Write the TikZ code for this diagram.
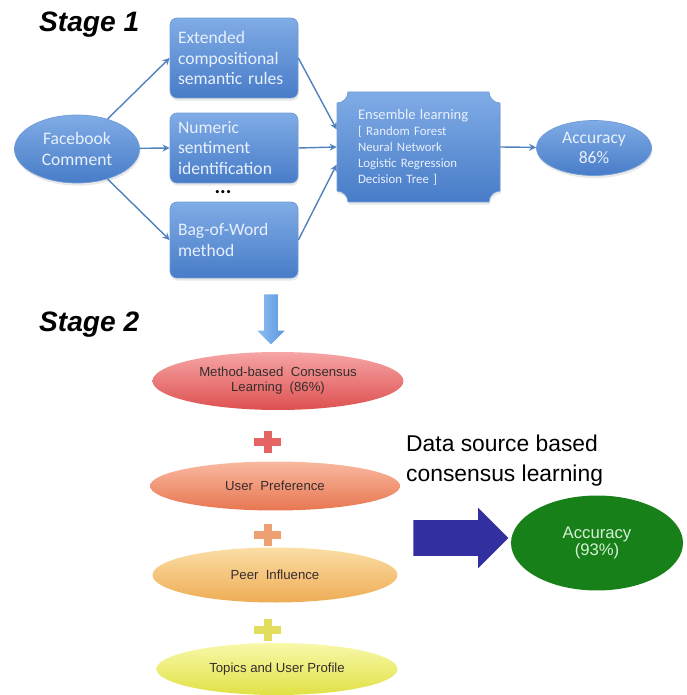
\documentclass[tikz,border=0pt]{standalone}
\usepackage{fontspec}
\setmainfont{Carlito}
\newfontfamily\arialfont{Liberation Sans}
\usetikzlibrary{shapes.geometric,shapes.arrows,arrows,shadows}

\definecolor{boxtop}{RGB}{128,172,230}
\definecolor{boxbot}{RGB}{72,124,200}
\definecolor{boxedge}{RGB}{110,155,215}
\definecolor{boxtext}{RGB}{232,240,252}
\definecolor{arccol}{RGB}{79,129,189}
\definecolor{redtop}{RGB}{246,165,165}
\definecolor{redbot}{RGB}{222,80,80}
\definecolor{orangetop}{RGB}{249,185,160}
\definecolor{orangebot}{RGB}{232,118,80}
\definecolor{peertop}{RGB}{251,222,165}
\definecolor{peerbot}{RGB}{238,172,85}
\definecolor{yellowtop}{RGB}{248,248,170}
\definecolor{yellowbot}{RGB}{225,225,70}
\definecolor{plusred}{RGB}{228,100,100}
\definecolor{plusorange}{RGB}{238,160,115}
\definecolor{plusyellow}{RGB}{226,220,95}
\definecolor{layertext}{RGB}{55,45,45}
\definecolor{accgreen}{RGB}{24,128,24}
\definecolor{acctext}{RGB}{215,240,215}
\definecolor{navyarrow}{RGB}{50,48,160}
\definecolor{downtop}{RGB}{140,190,240}
\definecolor{downbot}{RGB}{90,150,225}

\begin{document}
\begin{tikzpicture}[x=0.02cm, y=-0.02cm]
%% one unit is one pixel of the reference, y grows downwards
\tikzstyle{arc}=[->,>=stealth,line width=0.8pt,draw=arccol]
\tikzstyle{softshadow}=[drop shadow={opacity=0.18,shadow xshift=0.5pt,shadow yshift=-1.5pt}]
\tikzstyle{methodbox}=[rectangle,rounded corners=4pt,top color=boxtop,bottom color=boxbot,draw=boxedge,softshadow,text=boxtext,align=left,text width=2.24cm,inner xsep=0.16cm,inner ysep=0pt,font=\fontsize{10}{11.5}\selectfont]
\tikzstyle{blueoval}=[ellipse,top color=boxtop,bottom color=boxbot,draw=boxedge,softshadow,text=boxtext,align=center,inner sep=0pt,font=\fontsize{10}{11.5}\selectfont]
\tikzstyle{layer}=[ellipse,inner sep=0pt,align=center,text=layertext,font=\arialfont\fontsize{7.5}{8.5}\selectfont]
\tikzstyle{stagelabel}=[anchor=west,font=\arialfont\bfseries\itshape\fontsize{16}{18}\selectfont]
\useasboundingbox (0,0) rectangle (686,695);

%% Stage 1 %%
\node[stagelabel] at (33,25) (Stage1) {Stage 1};
\node[blueoval,minimum width=2.5cm,minimum height=1.36cm] at (77,149) (Facebook) {Facebook\\Comment};
\node[methodbox,minimum height=1.6cm] at (234,58) (Rules) {Extended\\compositional\\semantic rules};
\node[methodbox,minimum height=1.4cm] at (234,148) (Numeric) {Numeric\\sentiment\\identification};
\node[inner sep=0pt,font=\bfseries\fontsize{12}{12}\selectfont] at (223,192) (Dots) {...};
\node[methodbox,minimum height=1.52cm] at (234,240) (BagOfWord) {Bag-of-Word\\method};
%% plaque shaped box for the ensemble
\path[top color=boxtop,bottom color=boxbot,draw=boxedge,softshadow]
  (348,92) -- (489,92) .. controls (489,98) and (494,103) .. (500,103)
  -- (500,191) .. controls (494,191) and (489,196) .. (489,202)
  -- (348,202) .. controls (348,196) and (343,191) .. (337,191)
  -- (337,103) .. controls (343,103) and (348,98) .. (348,92) -- cycle;
\node[rectangle,text=boxtext,align=left,text width=2.42cm,inner xsep=0.42cm,inner ysep=0pt,minimum height=2.2cm,font=\fontsize{7.3}{9.1}\selectfont] at (418.5,147) (Ensemble)
  {{\fontsize{8.3}{9.1}\selectfont Ensemble learning}\\
   {[} Random Forest\\Neural Network\\Logistic Regression\\Decision Tree {]}};
\node[blueoval,minimum width=2.3cm,minimum height=1.1cm] at (594,148) (Acc1) {Accuracy\\86\%};
\draw[arc] (Facebook) -- (Rules.west);
\draw[arc] (Facebook) -- (Numeric.west);
\draw[arc] (Facebook) -- (BagOfWord.west);
\draw[arc] (Rules.east) -- ([yshift=10pt]Ensemble.west);
\draw[arc] (Numeric.east) -- (Ensemble.west);
\draw[arc] (BagOfWord.east) -- ([yshift=-10pt]Ensemble.west);
\draw[arc] (Ensemble.east) -- (Acc1);

%% Stage 2 %%
\node[single arrow,rotate=-90,left color=downtop,right color=downbot,minimum height=1cm,minimum width=0.54cm,single arrow head extend=0.14cm,inner xsep=0pt,inner ysep=0.13cm] at (271,316) (Down) {};
\node[stagelabel] at (33,325) (Stage2) {Stage 2};
\node[layer,top color=redtop,bottom color=redbot,minimum width=5.02cm,minimum height=1.16cm] at (278,381) (Method) {Method-based\ \ Consensus\\Learning\ \ (86\%)};
\node[layer,top color=orangetop,bottom color=orangebot,minimum width=5cm,minimum height=0.98cm] at (275,486) (UserPref) {User\ \ Preference};
\node[layer,top color=peertop,bottom color=peerbot,minimum width=4.9cm,minimum height=1.1cm] at (275,575) (Peer) {Peer\ \ Influence};
\node[layer,top color=yellowtop,bottom color=yellowbot,minimum width=4.82cm,minimum height=1.04cm] at (277,669) (Topics) {Topics and User Profile};
%% plus signs between the layers
\foreach \py/\pc in {442/plusred,535/plusorange,630/plusyellow}{
  \fill[\pc] (254,\py-4) rectangle (281,\py+4);
  \fill[\pc] (263.5,\py-11) rectangle (271.5,\py+11);
}
\node[anchor=west,align=left,font=\arialfont\fontsize{13}{17}\selectfont] at (400,461) (DataSource) {Data source based\\consensus learning};
\node[single arrow,fill=navyarrow,minimum height=1.9cm,minimum width=1.2cm,single arrow head extend=0.25cm,inner xsep=0pt,inner ysep=0.35cm] at (452,538) (Navy) {};
\node[ellipse,fill=accgreen,text=acctext,align=center,inner sep=0pt,minimum width=3.44cm,minimum height=1.9cm,font=\arialfont\fontsize{9.5}{10}\selectfont] at (597,543) (Acc2) {Accuracy\\(93\%)};
\end{tikzpicture}
\end{document}
